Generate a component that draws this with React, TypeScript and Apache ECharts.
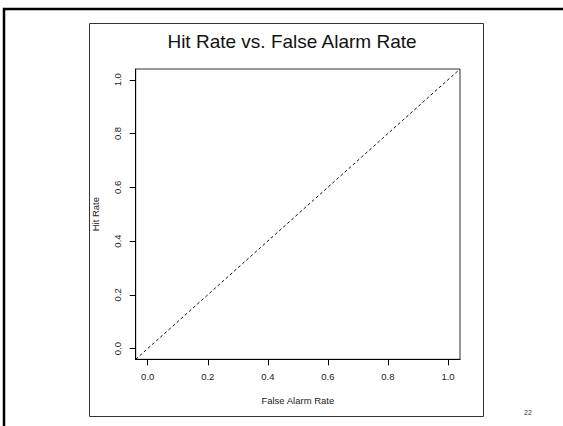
import React, { useEffect, useRef } from "react";
import * as echarts from "echarts";

const titleText = "Hit Rate vs. False Alarm Rate";
const xAxisName = "False Alarm Rate";
const yAxisName = "Hit Rate";
const pageNumber = "22";
const tickValues = [0, 0.2, 0.4, 0.6, 0.8, 1.0];
const axisRange = [-0.04, 1.04];
const diagonalLine = [
  [-0.04, -0.04],
  [1.04, 1.04],
];

const FONT = "'Liberation Sans', Arial, Helvetica, sans-serif";

export default function App() {
  const ref = useRef<HTMLDivElement>(null);
  useEffect(() => {
    if (!ref.current) return;
    const chart = echarts.init(ref.current, undefined, { renderer: "svg" });
    const fmt = (v: number) => v.toFixed(1);
    chart.setOption({
      animation: false,
      backgroundColor: "#ffffff",
      textStyle: { fontFamily: FONT },
      title: {
        text: titleText,
        left: 287,
        top: 27,
        textAlign: "center",
        textStyle: { fontFamily: FONT, fontSize: 19, fontWeight: "normal", color: "#111" },
      },
      graphic: [
        {
          type: "rect",
          shape: { x: 4, y: 9, width: 700, height: 600 },
          style: { fill: "none", stroke: "#000", lineWidth: 2.5 },
          silent: true,
        },
        {
          type: "rect",
          shape: { x: 89.5, y: 23.5, width: 394, height: 393 },
          style: { fill: "none", stroke: "#333", lineWidth: 1 },
          silent: true,
        },
        {
          type: "text",
          x: 528,
          y: 412,
          style: {
            text: pageNumber,
            fontSize: 7,
            fontFamily: FONT,
            fill: "#333",
            textAlign: "center",
            textVerticalAlign: "middle",
          },
          silent: true,
        },
      ],
      grid: {
        left: 135.7,
        top: 69,
        width: 324.3,
        height: 290.3,
        show: true,
        borderColor: "#333",
        borderWidth: 1,
        backgroundColor: "transparent",
        containLabel: false,
      },
      xAxis: {
        type: "value",
        min: axisRange[0],
        max: axisRange[1],
        name: xAxisName,
        nameLocation: "middle",
        nameGap: 36,
        nameTextStyle: { fontFamily: FONT, fontSize: 9.5, color: "#222" },
        axisLine: { show: true, onZero: false, lineStyle: { color: "#000", width: 1 } },
        axisTick: {
          show: true,
          inside: false,
          length: 6,
          customValues: tickValues,
          lineStyle: { color: "#000" },
        },
        axisLabel: {
          show: true,
          customValues: tickValues,
          formatter: fmt,
          margin: 12,
          fontSize: 9.5,
          fontFamily: FONT,
          color: "#222",
        },
        splitLine: { show: false },
      },
      yAxis: {
        type: "value",
        min: axisRange[0],
        max: axisRange[1],
        name: yAxisName,
        nameLocation: "middle",
        nameGap: 35,
        nameRotate: 90,
        nameTextStyle: { fontFamily: FONT, fontSize: 9.5, color: "#222" },
        axisLine: { show: true, onZero: false, lineStyle: { color: "#000", width: 1 } },
        axisTick: {
          show: true,
          inside: false,
          length: 6,
          customValues: tickValues,
          lineStyle: { color: "#000" },
        },
        axisLabel: {
          show: true,
          customValues: tickValues,
          formatter: fmt,
          rotate: 90,
          margin: 13,
          fontSize: 9.5,
          fontFamily: FONT,
          color: "#222",
          align: "center",
          verticalAlign: "bottom",
        },
        splitLine: { show: false },
      },
      series: [
        {
          type: "line",
          data: diagonalLine,
          symbol: "none",
          lineStyle: { color: "#111", width: 1, type: [3, 2.5] },
          silent: true,
        },
      ],
    });
    return () => chart.dispose();
  }, []);
  return (
    <div
      ref={ref}
      style={{ position: "fixed", left: 0, top: 0, width: 563, height: 426 }}
    />
  );
}
